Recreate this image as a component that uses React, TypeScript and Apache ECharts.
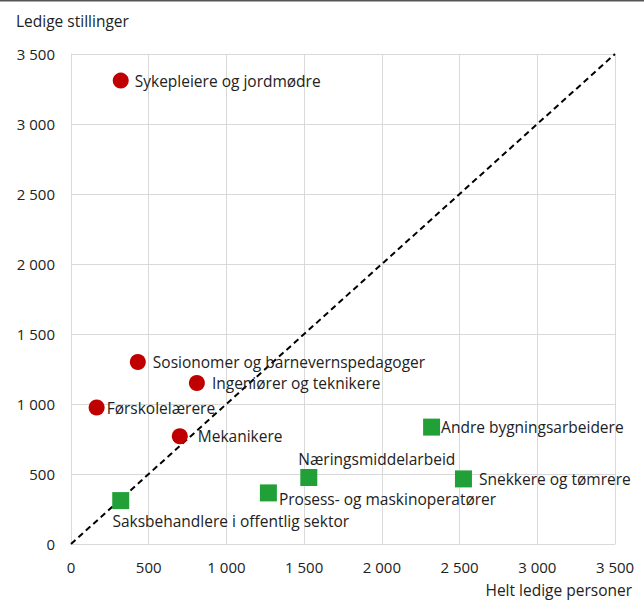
import React, { useEffect, useRef } from "react";
import * as echarts from "echarts";

const redNames = [
  "Sykepleiere og jordmødre",
  "Sosionomer og barnevernspedagoger",
  "Ingeniører og teknikere",
  "Førskolelærere",
  "Mekanikere",
];
const redX = [320, 430, 810, 165, 700];
const redY = [3310, 1300, 1150, 975, 770];

const greenNames = [
  "Saksbehandlere i offentlig sektor",
  "Prosess- og maskinoperatører",
  "Næringsmiddelarbeid",
  "Andre bygningsarbeidere",
  "Snekkere og tømrere",
];
const greenX = [320, 1270, 1530, 2320, 2525];
const greenY = [310, 365, 475, 835, 465];

const diagonal = [
  [0, 0],
  [3500, 3500],
];

const axisTicks = [0, 500, 1000, 1500, 2000, 2500, 3000, 3500];

const FONT = "'Open Sans', sans-serif";
const TXT = "#222";
const FS = 15;
const LFS = 15.5;

const redLabels: any[] = [
  { position: "right", distance: 6 },
  { position: "right", distance: 7 },
  { position: "right", distance: 7 },
  { position: "right", distance: 2 },
  { position: "right", distance: 10 },
];
const greenLabels: any[] = [
  { position: "bottom", distance: 4, offset: [110, 0] },
  { position: "right", distance: 2, offset: [0, 6] },
  { position: "top", distance: 2, offset: [68, 0] },
  { position: "right", distance: 1 },
  { position: "right", distance: 7 },
];

const fmt = (v: number) => {
  const s = String(v);
  return s.length > 3 ? s.slice(0, s.length - 3) + " " + s.slice(-3) : s;
};

export default function App() {
  const ref = useRef<HTMLDivElement>(null);
  useEffect(() => {
    document.body.style.margin = "0";
    const chart = echarts.init(ref.current!, null, { renderer: "svg" });
    const axisCommon = {
      type: "value",
      min: 0,
      max: 3500,
      interval: 500,
      axisLine: { show: true, lineStyle: { color: "#d9d9d9", width: 1 } },
      axisTick: { show: false },
      splitLine: { show: true, lineStyle: { color: "#d9d9d9", width: 1 } },
      axisLabel: {
        color: TXT,
        fontFamily: FONT,
        fontSize: FS,
        formatter: (v: number) => (axisTicks.includes(v) ? fmt(v) : ""),
      },
    };
    chart.setOption({
      animation: false,
      backgroundColor: "#fff",
      grid: { left: 71, right: 29, top: 54, bottom: 57, containLabel: false },
      xAxis: { ...axisCommon, axisLabel: { ...axisCommon.axisLabel, margin: 15 } },
      yAxis: { ...axisCommon, axisLabel: { ...axisCommon.axisLabel, margin: 16 } },
      graphic: [
        {
          type: "rect",
          shape: { x: 0, y: 0, width: 644, height: 1.5 },
          style: { fill: "#555" },
        },
        {
          type: "text",
          left: 16,
          top: 13,
          style: { text: "Ledige stillinger", fill: TXT, font: `${LFS}px ${FONT}` },
        },
        {
          type: "text",
          right: 12,
          top: 582,
          style: { text: "Helt ledige personer", fill: TXT, font: `${LFS}px ${FONT}` },
        },
      ],
      series: [
        {
          type: "line",
          data: diagonal,
          symbol: "none",
          silent: true,
          lineStyle: { color: "#000", width: 2, type: [6, 4] },
          z: 1,
        },
        {
          type: "scatter",
          symbol: "circle",
          symbolSize: 16,
          itemStyle: { color: "#c00000", opacity: 1 },
          z: 3,
          data: redNames.map((n, i) => ({
            name: n,
            value: [redX[i], redY[i]],
            label: {
              show: true,
              formatter: n,
              color: TXT,
              fontFamily: FONT,
              fontSize: LFS,
              ...redLabels[i],
            },
          })),
        },
        {
          type: "scatter",
          symbol: "rect",
          symbolSize: 17,
          itemStyle: { color: "#21a038", opacity: 1 },
          z: 3,
          data: greenNames.map((n, i) => ({
            name: n,
            value: [greenX[i], greenY[i]],
            label: {
              show: true,
              formatter: n,
              color: TXT,
              fontFamily: FONT,
              fontSize: LFS,
              ...greenLabels[i],
            },
          })),
        },
      ],
    });
    return () => chart.dispose();
  }, []);
  return <div ref={ref} style={{ width: 644, height: 601 }} />;
}
